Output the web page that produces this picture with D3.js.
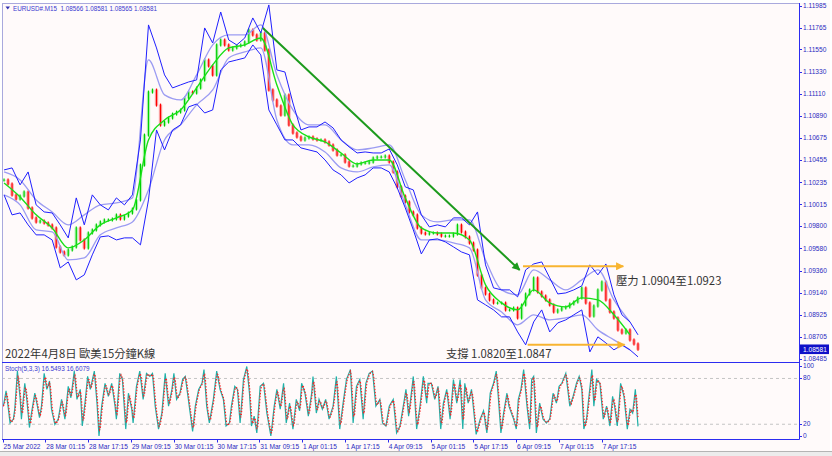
<!DOCTYPE html>
<html><head><meta charset="utf-8">
<script src="https://cdn.jsdelivr.net/npm/d3@7"></script>
<style>html,body{margin:0;padding:0;background:#fff;}svg{display:block;}</style>
</head><body>
<svg id="c" width="832" height="456"></svg>
<script>
// ---------------- DATA ----------------
const symbolTitle = "EURUSD#.M15  1.08566 1.08581 1.08565 1.08581";
const stochTitle = "Stoch(5,3,3) 16.5493 16.6079";
const chartNote = "2022年4月8日 歐美15分鐘K線";
const resistText = "壓力 1.0904至1.0923";
const supportText = "支撐 1.0820至1.0847";
const lastPrice = "1.08581";

const priceTicks = ["1.11985","1.11765","1.11550","1.11330","1.11110","1.10890","1.10675","1.10455","1.10235","1.10015","1.09800","1.09580","1.09360","1.09140","1.08925","1.08705","1.08485"];
const timeLabels = ["25 Mar 2022","28 Mar 01:15","28 Mar 17:15","29 Mar 09:15","30 Mar 01:15","30 Mar 17:15","31 Mar 09:15","1 Apr 01:15","1 Apr 17:15","4 Apr 09:15","5 Apr 01:15","5 Apr 17:15","6 Apr 09:15","7 Apr 01:15","7 Apr 17:15"];
const barsPerLabel = 64;       // M15 bars between time labels
const totalBars = 950;
const closeStep = 6;           // close sampled every 6 bars
const bandStep = 12;           // outer bands sampled every 12 bars
const innerStep = 24;          // inner bands / MA sampled every 24 bars

const closes = [1.10257,1.10217,1.10108,1.10069,1.10098,1.10138,1.09980,1.09881,1.09841,1.09851,
1.09831,1.09811,1.09782,1.09594,1.09544,1.09514,1.09564,1.09594,1.09782,1.09663,
1.09584,1.09732,1.09762,1.09811,1.09841,1.09861,1.09861,1.09871,1.09910,1.09871,
1.09900,1.09930,1.09970,1.10059,1.10405,1.10702,1.11128,1.11148,1.10999,1.10801,
1.10831,1.10871,1.10910,1.10930,1.10950,1.11069,1.11128,1.11118,1.11168,1.11247,
1.11445,1.11386,1.11296,1.11594,1.11643,1.11594,1.11544,1.11564,1.11584,1.11594,
1.11623,1.11742,1.11693,1.11643,1.11712,1.11544,1.11148,1.11049,1.10990,1.10900,
1.11098,1.10801,1.10722,1.10683,1.10653,1.10673,1.10683,1.10663,1.10653,1.10653,
1.10633,1.10603,1.10554,1.10504,1.10504,1.10435,1.10395,1.10395,1.10415,1.10425,
1.10425,1.10435,1.10475,1.10485,1.10485,1.10494,1.10435,1.10336,1.10188,1.10098,
1.10039,1.09940,1.09910,1.09782,1.09732,1.09722,1.09732,1.09732,1.09722,1.09702,
1.09702,1.09702,1.09722,1.09811,1.09742,1.09693,1.09633,1.09564,1.09316,1.09188,
1.09128,1.09069,1.09039,1.09039,1.09039,1.08970,1.08970,1.08990,1.08891,1.09019,
1.09128,1.09168,1.09287,1.09148,1.09108,1.09069,1.09019,1.08950,1.08970,1.08990,
1.09000,1.09029,1.09049,1.09089,1.09188,1.09039,1.08910,1.09009,1.09168,1.09247,
1.09069,1.08950,1.08891,1.08772,1.08742,1.08772,1.08673,1.08633,1.08581];

const upperBand = [1.10357,1.10377,1.10209,1.10337,1.10011,1.09941,1.09931,1.09813,1.09684,1.10080,
1.09813,1.10110,1.10011,1.09961,1.10080,1.10011,1.10110,1.10654,1.11793,1.11565,
1.11298,1.11169,1.11199,1.11228,1.11248,1.11763,1.11614,1.11921,1.11644,1.11595,
1.11664,1.11862,1.11713,1.11991,1.11347,1.11327,1.11020,1.10753,1.10783,1.10783,
1.10832,1.10773,1.10654,1.10585,1.10525,1.10535,1.10525,1.10525,1.10565,1.10407,
1.10189,1.10159,1.09912,1.09793,1.09813,1.09793,1.09882,1.09882,1.09813,1.09941,
1.09417,1.09189,1.09169,1.09169,1.09100,1.09367,1.09426,1.09446,1.09288,1.09129,
1.09139,1.09169,1.09209,1.09417,1.09318,1.09426,1.09120,1.08922,1.08852,1.08724];

const lowerBand = [1.10110,1.09912,1.09931,1.09813,1.09714,1.09714,1.09664,1.09387,1.09446,1.09268,
1.09318,1.09516,1.09694,1.09704,1.09664,1.09684,1.09684,1.09615,1.10060,1.10753,
1.10555,1.10753,1.10803,1.10981,1.11010,1.10921,1.10951,1.11347,1.11426,1.11446,
1.11466,1.11595,1.11496,1.10951,1.10803,1.10654,1.10654,1.10575,1.10555,1.10535,
1.10456,1.10357,1.10308,1.10228,1.10278,1.10308,1.10377,1.10377,1.10337,1.10179,
1.09981,1.09763,1.09525,1.09664,1.09674,1.09644,1.09595,1.09545,1.09516,1.09070,
1.09021,1.08971,1.08902,1.08902,1.08753,1.08625,1.08852,1.08971,1.08753,1.08842,
1.08872,1.08922,1.08971,1.08555,1.08704,1.08644,1.08575,1.08625,1.08575,1.08506];

const innerUpper = [1.10337,1.10258,1.10060,1.09941,1.09813,1.09912,1.10011,1.10030,1.10080,1.11446,
1.11100,1.11050,1.11298,1.11595,1.11694,1.11694,1.11793,1.11298,1.10951,1.10803,
1.10803,1.10654,1.10555,1.10575,1.10605,1.10258,1.09912,1.09842,1.09862,1.09862,
1.09466,1.09169,1.09120,1.09367,1.09268,1.09169,1.09268,1.09367,1.09070,1.08852];

const innerLower = [1.10110,1.10011,1.09763,1.09743,1.09466,1.09486,1.09714,1.09783,1.09842,1.10159,
1.10654,1.10803,1.11001,1.11149,1.11466,1.11525,1.11565,1.10852,1.10605,1.10605,
1.10535,1.10377,1.10337,1.10387,1.10407,1.10011,1.09664,1.09664,1.09634,1.09585,
1.09070,1.08951,1.08823,1.08922,1.08872,1.08892,1.08922,1.08773,1.08674,1.08575];

const movingAvg = [1.10228,1.10090,1.09912,1.09783,1.09585,1.09664,1.09813,1.09882,1.09961,1.10654,
1.10852,1.10951,1.11169,1.11397,1.11565,1.11595,1.11664,1.11199,1.10803,1.10684,
1.10634,1.10525,1.10416,1.10456,1.10456,1.10080,1.09783,1.09733,1.09733,1.09664,
1.09219,1.09040,1.08971,1.09169,1.09040,1.09001,1.09090,1.09070,1.08922,1.08724];

// Stochastic %K turning points: bar index and value
const stochBar = [1,5,8,11,16,18,22,26,28,33,36,40,43,48,51,55,58,62,66,70,73,78,83,88,93,98,102,107,111,116,
119,123,127,131,137,141,144,148,153,158,163,168,170,175,179,184,188,193,195,200,205,210,215,220,224,228,233,238,243,248,
253,256,260,265,269,273,277,284,288,293,298,301,305,309,315,320,325,330,334,339,342,347,351,355,360,365,369,372,376,380,
385,390,395,401,406,410,415,420,424,429,434,439,444,447,452,457,462,464,469,473,478,483,488,494,499,504,509,514,520,524,
529,534,539,543,548,553,558,564,568,573,578,584,589,594,599,603,607,614,619,624,629,634,636,641,646,651,655,659,664,669,
674,679,684,688,691,696,701,708,714,719,724,729,734,738,741,745,749,754,757,764,768,771,775,779,784,788,791,794,798,803,
808,813,818,823,828,832,836,842,848,853,858,862,866,869,873,881,884,888,893,898,903,908,912,915,919,924,929,934,938,942,
946,950];
const stochK = [43,63,43,21,26,39,89,54,26,73,52,15,34,60,47,28,43,86,65,76,39,19,26,52,26,69,54,89,52,65,
17,47,82,65,89,47,4,43,73,56,73,43,26,86,78,13,60,39,21,69,89,52,86,82,86,43,13,34,86,43,
65,86,52,60,78,82,56,10,43,65,73,91,43,21,52,89,65,52,17,21,43,69,65,21,78,95,60,17,30,8,
69,73,34,4,43,65,39,73,21,47,13,52,37,73,60,30,60,82,34,52,39,52,26,43,82,13,47,78,91,21,
69,78,26,73,86,89,43,52,21,17,43,52,8,17,43,65,30,82,13,43,82,47,73,73,52,69,13,47,65,26,
78,47,78,13,73,47,65,6,26,37,8,60,73,89,56,8,34,60,43,26,13,52,65,91,43,13,78,82,8,47,
26,21,26,60,47,69,73,86,43,56,73,82,65,13,26,91,43,78,73,26,43,17,56,43,17,73,56,13,39,34,
65,16.5];
const signalPeriod = 3;        // %D = SMA(3) of %K
const stochLevels = [80, 20];
const stochTicks = [100, 80, 20, 0];

// annotation lines: [bar, price]
const trendLine = [[389, 1.11762], [773, 1.09366]];
const resistArrow = [[778, 1.09402], [928, 1.09402]];
const supportArrow = [[785, 1.08625], [930, 1.08625]];

// ---------------- CHART ----------------
const svg = d3.select("#c");
const L = 2, R = 799, T = 3, MB = 362, SB = 439;
const blue = "#2c2cf0", axisText = "#2a2ac0";
const sans = "'Liberation Sans',Arial,sans-serif";

svg.append("rect").attr("x",0).attr("y",0).attr("width",832).attr("height",456).attr("fill","#ffffff");
svg.append("rect").attr("x",L).attr("y",T).attr("width",828).attr("height",448).attr("fill","#fffafa");

const x = d3.scaleLinear().domain([0, totalBars]).range([2.7, 638]);
const y = d3.scaleLinear().domain([1.08455, 1.12010]).range([362, 3]);
const ys = d3.scaleLinear().domain([0, 100]).range([SB, 362.7]);

const defs = svg.append("defs");
defs.append("clipPath").attr("id","mainclip").append("rect").attr("x",L).attr("y",T).attr("width",R-L).attr("height",MB-T);
defs.append("clipPath").attr("id","stclip").append("rect").attr("x",L).attr("y",MB).attr("width",R-L).attr("height",SB-MB);
function arrowMarker(id, color, w, h) {
  defs.append("marker").attr("id",id).attr("viewBox","0 0 10 10").attr("refX",9).attr("refY",5)
    .attr("markerWidth",w).attr("markerHeight",h).attr("markerUnits","userSpaceOnUse").attr("orient","auto")
    .append("path").attr("d","M0,0L10,5L0,10Z").attr("fill",color);
}
arrowMarker("arG", "#1c9a1c", 10, 8);
arrowMarker("arO", "#f8b430", 10, 8);

const main = svg.append("g").attr("clip-path","url(#mainclip)");

// candles (open = previous sampled close)
const candles = closes.map((c,i) => ({bar: i*closeStep + 2, o: i ? closes[i-1] : c, c}));
const cg = main.append("g");
cg.selectAll("rect").data(candles).join("rect")
  .attr("x", d => x(d.bar) - 1.7).attr("width", 3.4)
  .attr("y", d => Math.min(y(d.o), y(d.c)) - 0.5)
  .attr("height", d => Math.max(1.5, Math.abs(y(d.o) - y(d.c)) + 1))
  .attr("fill", d => d.c >= d.o ? "#b9f3b9" : "#f9a9a9");
cg.selectAll("line").data(candles).join("line")
  .attr("x1", d => x(d.bar)).attr("x2", d => x(d.bar))
  .attr("y1", d => y(d.o) + (d.c >= d.o ? 1.5 : -1.5)).attr("y2", d => y(d.c) + (d.c >= d.o ? -1.5 : 1.5))
  .attr("stroke", d => d.c >= d.o ? "#00d000" : "#ff0000").attr("stroke-width", 1.2);

function series(arr, step) { return arr.map((v,i) => [i*step + 2, v]); }

main.append("path").datum(series(movingAvg, innerStep))
  .attr("d", d3.line().x(d => x(d[0])).y(d => y(d[1])).curve(d3.curveMonotoneX))
  .attr("fill","none").attr("stroke","#18e018").attr("stroke-width",1.4);
[innerUpper, innerLower].forEach(a => main.append("path").datum(series(a, innerStep))
  .attr("d", d3.line().x(d => x(d[0])).y(d => y(d[1])).curve(d3.curveMonotoneX))
  .attr("fill","none").attr("stroke","#9c9cf2").attr("stroke-width",1.3));
[upperBand, lowerBand].forEach(a => main.append("path").datum(series(a, bandStep))
  .attr("d", d3.line().x(d => x(d[0])).y(d => y(d[1])))
  .attr("fill","none").attr("stroke","#2020ff").attr("stroke-width",1));

// annotations
const pl = d3.line().x(d => x(d[0])).y(d => y(d[1]));
main.append("path").datum(trendLine).attr("d", pl).attr("stroke","#1c9a1c").attr("stroke-width",2)
  .attr("fill","none").attr("marker-end","url(#arG)");
[resistArrow, supportArrow].forEach(a => main.append("path").datum(a).attr("d", pl)
  .attr("stroke","#f8b430").attr("stroke-width",2).attr("fill","none").attr("marker-end","url(#arO)"));

const cjk = "'Noto Sans CJK TC','Noto Sans',sans-serif";
main.append("text").attr("x",616).attr("y",285).text(resistText)
  .attr("font-family",cjk).attr("font-size",11.3).attr("fill","#333");
svg.append("text").attr("x",446).attr("y",358).text(supportText)
  .attr("font-family",cjk).attr("font-size",11.3).attr("fill","#333");
svg.append("text").attr("x",5).attr("y",358).text(chartNote)
  .attr("font-family",cjk).attr("font-size",11.3).attr("fill","#333");

// header
svg.append("path").attr("d","M5.5,6.5L10,6.5L7.75,9.5Z").attr("fill","#3030b0");
svg.append("text").attr("x",13).attr("y",10.5).text(symbolTitle)
  .style("white-space","pre").attr("font-family",sans).attr("font-size",6.3).attr("fill","#3a3ad0");

// stochastic panel
const st = svg.append("g").attr("clip-path","url(#stclip)");
st.selectAll("line.lvl").data(stochLevels).join("line").attr("class","lvl")
  .attr("x1",L).attr("x2",R).attr("y1",d=>ys(d)+0.5).attr("y2",d=>ys(d)+0.5)
  .attr("stroke","#c4c4c4").attr("stroke-dasharray","3,3");
// %K line per bar along its turning points, %D = SMA(signalPeriod) of %K per bar
const kAt = d3.scaleLinear().domain(stochBar).range(stochK);
const kBars = d3.range(stochBar[0], stochBar[stochBar.length-1] + 1);
const kPts = kBars.map(b => [b, kAt(b)]);
const dPts = kPts.map((p,i) => [p[0], d3.mean(kPts.slice(Math.max(0, i - signalPeriod + 1), i + 1), q => q[1])]);
const sl = d3.line().x(d => x(d[0])).y(d => ys(d[1]));
st.append("path").datum(kPts).attr("d", sl).attr("fill","none").attr("stroke","#20b0a8").attr("stroke-width",1.2);
st.append("path").datum(dPts).attr("d", sl).attr("fill","none").attr("stroke","#ff2020")
  .attr("stroke-width",1.2).attr("stroke-dasharray","1.5,1.5");
svg.append("text").attr("x",5).attr("y",371).text(stochTitle)
  .attr("font-family",sans).attr("font-size",6.4).attr("fill","#3a3ad0");

// frames
svg.append("line").attr("x1",L+0.5).attr("x2",L+0.5).attr("y1",T).attr("y2",SB).attr("stroke","#a9a9dd");
svg.append("line").attr("x1",L).attr("x2",R).attr("y1",T+0.5).attr("y2",T+0.5).attr("stroke","#a9a9dd");
svg.append("line").attr("x1",L).attr("x2",R).attr("y1",MB+0.5).attr("y2",MB+0.5).attr("stroke",blue);
svg.append("line").attr("x1",L).attr("x2",R+0.5).attr("y1",SB+0.5).attr("y2",SB+0.5).attr("stroke",blue);
svg.append("line").attr("x1",R+0.5).attr("x2",R+0.5).attr("y1",T).attr("y2",SB+0.5).attr("stroke",blue);

// right price axis
const pa = svg.append("g").attr("font-family",sans).attr("font-size",6.6);
pa.selectAll("line").data(priceTicks).join("line")
  .attr("x1",R).attr("x2",R+3).attr("y1",d=>Math.round(y(+d))+0.5).attr("y2",d=>Math.round(y(+d))+0.5).attr("stroke",blue);
pa.selectAll("text").data(priceTicks).join("text")
  .attr("x",R+4).attr("y",d=>y(+d)+2.3).text(d=>d).attr("fill",axisText);
const ly = y(+lastPrice);
svg.append("rect").attr("x",R+1).attr("y",ly-4.8).attr("width",29).attr("height",9.6).attr("fill","#1010c8");
svg.append("text").attr("x",R+4).attr("y",ly+2.3).text(lastPrice).attr("fill","#ffffff")
  .attr("font-family",sans).attr("font-size",6.6);

// stoch axis
const sa = svg.append("g").attr("font-family",sans).attr("font-size",6.6);
const sy = d => Math.min(436, Math.max(366, ys(d)));
sa.selectAll("line").data(stochTicks).join("line")
  .attr("x1",R).attr("x2",R+3).attr("y1",d=>Math.round(sy(d))+0.5).attr("y2",d=>Math.round(sy(d))+0.5).attr("stroke",blue);
sa.selectAll("text").data(stochTicks).join("text")
  .attr("x",R+4).attr("y",d=>sy(d)+2.3).text(d=>d).attr("fill",axisText);

// time axis
const ta = svg.append("g").attr("font-family",sans).attr("font-size",6.6);
ta.selectAll("line").data(timeLabels).join("line")
  .attr("x1",(d,i)=>Math.round(x(i*barsPerLabel))+0.5).attr("x2",(d,i)=>Math.round(x(i*barsPerLabel))+0.5)
  .attr("y1",SB).attr("y2",SB+3.5).attr("stroke",blue);
ta.selectAll("text").data(timeLabels).join("text")
  .attr("x",(d,i)=>x(i*barsPerLabel)+0.8).attr("y",448.5).text(d=>d).attr("fill",axisText);

// bottom strip
svg.append("rect").attr("x",0).attr("y",452).attr("width",832).attr("height",4).attr("fill","#ececec");
svg.append("line").attr("x1",0).attr("x2",832).attr("y1",451.5).attr("y2",451.5).attr("stroke","#b4b4b4");
</script>
</body></html>
